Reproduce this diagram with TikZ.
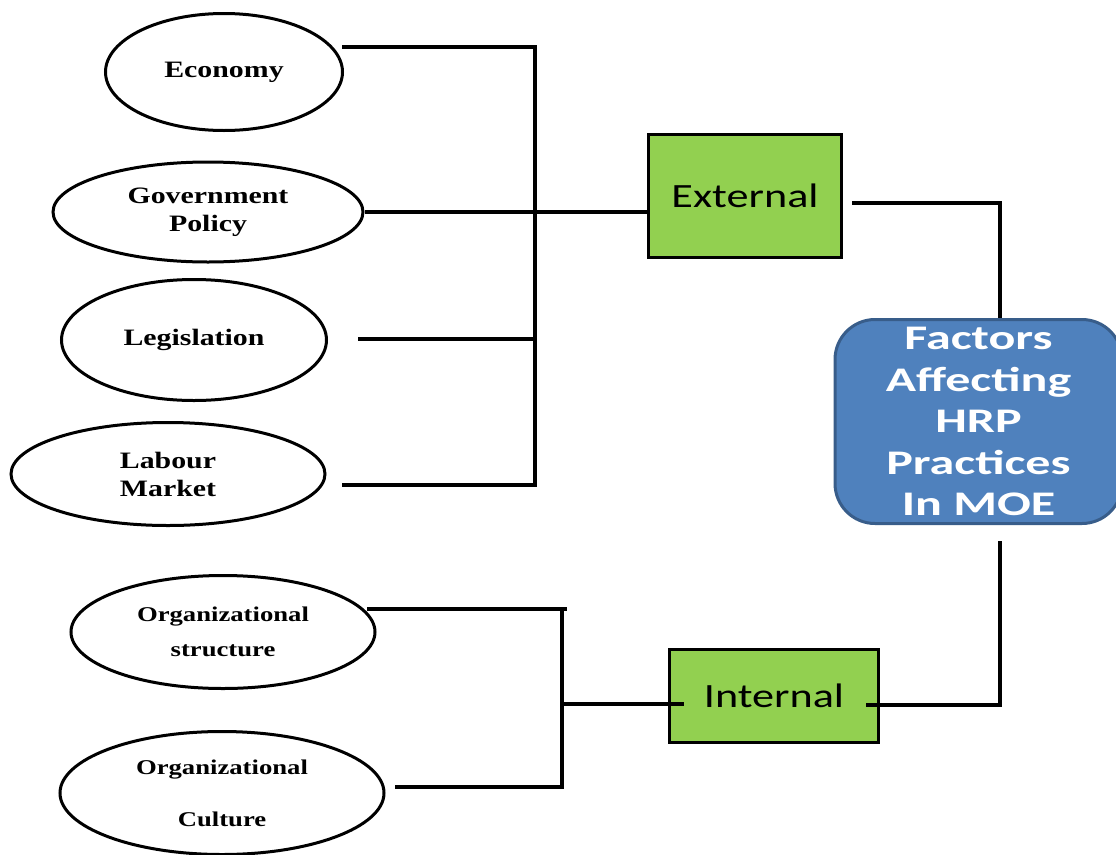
\documentclass[tikz,border=0pt]{standalone}
\usepackage{fontspec}
\newfontfamily\ellfont{Liberation Serif}[FakeStretch=1.27]
\newfontfamily\boxfont{Carlito}[FakeStretch=1.3]
\newfontfamily\hrpfont{Carlito}[FakeStretch=1.45]
\usetikzlibrary{shapes.geometric}
\definecolor{boxgreen}{HTML}{92D050}
\definecolor{hrpblue}{HTML}{4F81BD}
\definecolor{hrpborder}{HTML}{385D8A}
\begin{document}
\begin{tikzpicture}[x=1pt,y=-1pt,
  factor/.style={ellipse, draw=black, line width=3pt, fill=white, inner sep=0pt, align=center,
    font=\ellfont\bfseries\fontsize{23.5}{28}\selectfont},
  smallfactor/.style={factor, font=\ellfont\bfseries\fontsize{21}{35}\selectfont},
  groupbox/.style={rectangle, draw=black, line width=3pt, fill=boxgreen, inner sep=0pt,
    font=\boxfont\fontsize{34}{40}\selectfont},
  hrpbox/.style={rectangle, rounded corners=40pt, draw=hrpborder, line width=3pt, fill=hrpblue,
    text=white, inner sep=0pt, align=center, font=\hrpfont\bfseries\fontsize{34.5}{41.5}\selectfont},
  conn/.style={draw=black, line width=3.4pt}
]
\useasboundingbox (0,0) rectangle (1116,854);

% factor ellipses
\node[factor, minimum width=237pt, minimum height=117pt] (eco) at (224,72) {Economy};
\node[factor, minimum width=310pt, minimum height=100pt] (gov) at (208,212) {Government\\Policy};
\node[factor, minimum width=265pt, minimum height=121pt] (leg) at (194,340) {Legislation};
\node[factor, minimum width=314pt, minimum height=103pt] (lab) at (168,474) {Labour\\Market};
\node[smallfactor, minimum width=304pt, minimum height=113pt] (ost) at (223,632) {Organizational\\structure};
\node[factor, minimum width=324pt, minimum height=123pt, font=\ellfont\bfseries\fontsize{21}{52}\selectfont] (ocu) at (222,793) {Organizational\\Culture};

% group boxes
\node[groupbox, minimum width=193pt, minimum height=123pt] (ext) at (745,196) {External};
\node[groupbox, minimum width=209pt, minimum height=93pt] (int) at (774,696) {Internal};

% main box
\node[hrpbox, minimum width=287pt, minimum height=204pt] (hrp) at (978.5,421.5)
  {Factors\\Affecting\\HRP\\Practices\\In MOE};

% connector coordinates
\coordinate (busT) at (535,47);
\coordinate (busB) at (535,485);
\coordinate (ecoEnd) at (342,47);
\coordinate (legEnd) at (358,339);
\coordinate (labEnd) at (342,485);
\coordinate (extR) at (852,203);
\coordinate (topJ) at (1000,203);
\coordinate (botS) at (1000,541);
\coordinate (botJ) at (1000,705);
\coordinate (intR) at (866,705);
\coordinate (ostEnd) at (367,609);
\coordinate (ibTE) at (567,609);
\coordinate (ibT) at (562,609);
\coordinate (ibB) at (562,787);
\coordinate (ocuEnd) at (395,787);
\coordinate (ibM) at (562,704);
\coordinate (intL) at (684,704);

% external connectors
\draw[conn] (ecoEnd) -- (busT) -- (busB) -- (labEnd);
\draw[conn] (gov.east) -- (gov.east -| ext.west);
\draw[conn] (legEnd) -- (legEnd -| busT);
\draw[conn] (extR) -- (topJ) -- (topJ |- hrp.north);

% internal connectors
\draw[conn] (ostEnd) -- (ibTE);
\draw[conn] (ibT) -- (ibB) -- (ocuEnd);
\draw[conn] (ibM) -- (intL);
\draw[conn] (botS) -- (botJ) -- (intR);
\end{tikzpicture}
\end{document}
